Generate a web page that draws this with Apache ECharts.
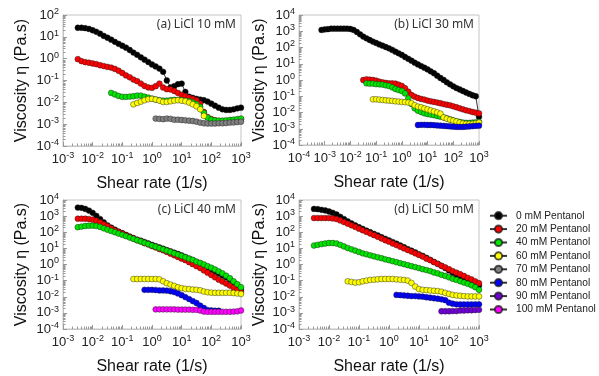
<!DOCTYPE html>
<html><head><meta charset="utf-8">
<script src="https://cdn.jsdelivr.net/npm/echarts@6/dist/echarts.min.js"></script>
<style>html,body{margin:0;padding:0;background:#fff}#c{width:599px;height:376px}</style>
</head><body><div id="c"></div>
<script>
// Shear-rate grid (1/s), 8 points per decade, index 0 = 1e-4 ... index 56 = 1e3
const shearRates = [
  1.00e-4,1.33e-4,1.78e-4,2.37e-4,3.16e-4,4.22e-4,5.62e-4,7.50e-4,
  1.00e-3,1.33e-3,1.78e-3,2.37e-3,3.16e-3,4.22e-3,5.62e-3,7.50e-3,
  1.00e-2,1.33e-2,1.78e-2,2.37e-2,3.16e-2,4.22e-2,5.62e-2,7.50e-2,
  1.00e-1,1.33e-1,1.78e-1,2.37e-1,3.16e-1,4.22e-1,5.62e-1,7.50e-1,
  1.00,1.33,1.78,2.37,3.16,4.22,5.62,7.50,
  10.0,13.3,17.8,23.7,31.6,42.2,56.2,75.0,
  100,133,178,237,316,422,562,750,
  1000
];
const seriesNames = ['0 mM Pentanol','20 mM Pentanol','40 mM Pentanol','60 mM Pentanol','70 mM Pentanol','80 mM Pentanol','90 mM Pentanol','100 mM Pentanol'];
const seriesColors = ['#000000','#ff0000','#00e600','#ffff00','#808080','#0000ff','#7000d8','#ff00ff'];
const panelTitles = ['(a) LiCl 10 mM','(b) LiCl 30 mM','(c) LiCl 40 mM','(d) LiCl 50 mM'];
const xRanges = [[1e-3,1e3],[1e-4,1e3],[1e-3,1e3],[1e-3,1e3]];
const yRanges = [[1e-4,1e2],[1e-4,1e4],[1e-4,1e4],[1e-4,1e4]];

// Viscosity (Pa.s); "from" = index into shearRates of first point
// Panel (a) LiCl 10 mM
const A_0 = {from:12, eta:[26,26,25,23,20,17,14,11,9.1,7.4,5.9,4.8,3.9,3.2,2.5,1.9,1.5,1.15,0.9,0.7,0.54,0.44,0.35,0.25,0.10,0.048,0.055,0.068,0.072,0.030,0.018,0.016,0.0144,0.0134,0.0125,0.0108,0.0087,0.0070,0.0057,0.0048,0.0045,0.0045,0.0048,0.0053,0.0057]};
const A_20 = {from:12, eta:[0.95,0.77,0.69,0.65,0.60,0.56,0.50,0.46,0.42,0.39,0.34,0.28,0.22,0.17,0.14,0.11,0.093,0.072,0.056,0.048,0.046,0.055,0.072,0.048,0.040,0.039,0.033,0.027,0.022,0.019,0.0165,0.0144,0.0125,0.0088,0.0036,0.0021,0.0017,0.0015,0.0014,0.00135,0.00135,0.0014,0.0015,0.0016,0.0017]};
const A_40 = {from:21, eta:[0.027,0.023,0.0196,0.0178,0.0178,0.0183,0.019,0.0204,0.0204,0.018,0.0165,0.0148,0.0134,0.0125,0.012,0.012,0.0125,0.013,0.013,0.0125,0.012,0.0112,0.0098,0.0082,0.0061,0.0033,0.0020,0.0016,0.0015,0.00145,0.00145,0.0015,0.00155,0.0016,0.0017,0.0018]};
const A_60 = {from:27, eta:[0.0081,0.0094,0.0108,0.0125,0.0139,0.0144,0.0134,0.012,0.0104,0.0104,0.0112,0.012,0.0125,0.012,0.0112,0.0098,0.0081,0.0066,0.0048,0.0024]};
const A_70 = {from:33, eta:[0.0018,0.00175,0.0017,0.0018,0.00175,0.0016,0.0016,0.00155,0.0015,0.00145,0.0014,0.0013,0.00118,0.0011,0.00107,0.00107,0.00107,0.0011,0.0011,0.00113,0.00118,0.0012,0.00125,0.0013]};
// Panel (b) LiCl 30 mM
const B_0 = {from:7, eta:[1200,1300,1350,1450,1450,1450,1450,1450,1450,1380,1200,900,650,470,365,290,230,190,155,130,107,89,71,55,44,35,26,20,15.5,11.7,9.1,7.2,5.7,4.5,3.4,2.6,1.85,1.33,1.0,0.72,0.54,0.41,0.32,0.26,0.21,0.17,0.14,0.115,0.1,0.0055]};
const B_20 = {from:20, eta:[1.0,1.1,1.05,1.0,0.91,0.79,0.72,0.66,0.62,0.62,0.6,0.51,0.43,0.31,0.19,0.12,0.094,0.078,0.068,0.062,0.054,0.049,0.045,0.041,0.037,0.033,0.030,0.0275,0.024,0.021,0.018,0.0156,0.0136,0.0123,0.0107,0.0098,0.0089]};
const B_40 = {from:21, eta:[0.62,0.6,0.6,0.56,0.54,0.52,0.47,0.43,0.355,0.28,0.24,0.21,0.15,0.074,0.033,0.018,0.013,0.0107,0.0089,0.0081,0.0074,0.0068,0.0061,0.0055,0.0050,0.0044,0.0038,0.0033,0.0029,0.0026,0.0024,0.0023,0.0023,0.0024,0.0025,0.0026]};
const B_60 = {from:23, eta:[0.065,0.065,0.062,0.059,0.056,0.054,0.052,0.049,0.047,0.045,0.043,0.041,0.037,0.028,0.023,0.021,0.018,0.0155,0.0135,0.0117,0.0102,0.0085,0.0050,0.0042,0.0036,0.0032,0.0028,0.0024,0.0021,0.0020,0.0020,0.0020,0.0021,0.0024]};
const B_80 = {from:37, eta:[0.0017,0.00175,0.00175,0.0017,0.0017,0.00165,0.0016,0.00155,0.0015,0.00145,0.0014,0.00135,0.0013,0.0013,0.0013,0.00135,0.0014,0.00145,0.0015,0.00155]};
// Panel (c) LiCl 40 mM
const C_0 = {from:12, eta:[3400,3250,2800,2200,1600,1040,660,410,270,195,145,110,87,69,54,43,35,30,24.5,20,16.6,13.8,11.5,9.5,7.9,6.6,5.4,4.5,3.7,2.9,2.3,1.85,1.45,1.15,0.87,0.66,0.49,0.37,0.28,0.21,0.16,0.115,0.079,0.049,0.027]};
const C_20 = {from:12, eta:[690,690,690,660,600,515,410,310,235,175,132,105,83,66,52,41,32,27,21,17.5,13.8,11.5,9.1,7.6,6.0,4.7,3.7,2.9,2.3,1.85,1.4,1.05,0.79,0.6,0.43,0.31,0.22,0.16,0.115,0.087,0.066,0.049,0.037,0.027,0.020]};
const C_40 = {from:12, eta:[205,225,245,255,255,245,215,175,145,120,100,83,69,57,47,39,32,27,22,18.5,15,12.6,10.5,8.7,7.2,6.0,4.9,4.1,3.4,2.8,2.3,1.95,1.5,1.26,1.0,0.79,0.63,0.49,0.37,0.28,0.20,0.14,0.091,0.060,0.039]};
const C_60 = {from:27, eta:[0.126,0.126,0.126,0.126,0.126,0.126,0.126,0.12,0.091,0.069,0.057,0.047,0.039,0.034,0.031,0.030,0.028,0.027,0.025,0.021,0.019,0.018,0.0175,0.0175,0.0175,0.0175,0.0175,0.017,0.016,0.015]};
const C_80 = {from:30, eta:[0.027,0.027,0.027,0.026,0.0245,0.0245,0.024,0.022,0.0195,0.016,0.0126,0.0095,0.0072,0.0054,0.0041,0.0028,0.0020,0.0015,0.0014,0.00135,0.00135]};
const C_100 = {from:33, eta:[0.00165,0.00165,0.00165,0.00165,0.00165,0.00165,0.0016,0.0016,0.0016,0.0016,0.00155,0.00155,0.0014,0.0012,0.00117,0.00117,0.00117,0.00117,0.00117,0.00117,0.00117,0.0012,0.00125,0.0014]};
// Panel (d) LiCl 50 mM
const D_0 = {from:12, eta:[2800,2700,2450,2250,1940,1600,1260,910,660,470,355,270,205,160,126,100,79,63,49,39,31,24.5,19.5,15.2,12,9.1,7.2,5.7,4.3,3.4,2.6,1.95,1.45,1.1,0.83,0.60,0.43,0.31,0.22,0.16,0.12,0.095,0.076,0.063,0.049]};
const D_20 = {from:12, eta:[760,760,760,760,760,725,660,540,425,340,270,215,167,132,105,83,66,52,41,32,26,20,16,12.6,10,7.9,6.3,4.9,3.9,3.1,2.3,1.85,1.4,1.1,0.83,0.66,0.51,0.39,0.31,0.25,0.195,0.15,0.12,0.091,0.069]};
const D_40 = {from:12, eta:[15,16.6,18.5,20,21.5,21.5,20,16.6,13.2,10.5,8.7,7.2,6.0,4.9,4.3,3.7,3.2,2.8,2.45,2.1,1.85,1.6,1.4,1.2,1.05,0.91,0.79,0.69,0.6,0.51,0.45,0.39,0.32,0.28,0.23,0.195,0.16,0.13,0.11,0.091,0.076,0.063,0.051,0.039,0.027]};
const D_60 = {from:21, eta:[0.091,0.083,0.076,0.079,0.091,0.1,0.11,0.115,0.12,0.126,0.126,0.126,0.126,0.12,0.115,0.11,0.1,0.072,0.043,0.030,0.027,0.026,0.0245,0.0235,0.0225,0.0205,0.0175,0.015,0.013,0.012,0.0115,0.011,0.0105,0.0105,0.0105,0.0105]};
const D_80 = {from:34, eta:[0.013,0.0126,0.012,0.0115,0.011,0.011,0.0105,0.0101,0.0093,0.0087,0.0081,0.0075,0.0069,0.0061,0.0043,0.0037,0.0034,0.0033,0.0033,0.0033,0.0033,0.0034,0.0034]};
const D_90 = {from:46, eta:[0.00126,0.00126,0.00126,0.0013,0.0013,0.0014,0.0014,0.00145,0.00145,0.0015,0.00155]};

// [series index into seriesNames, data]
const panelSeries = [
  [[0,A_0],[1,A_20],[2,A_40],[3,A_60],[4,A_70]],
  [[0,B_0],[1,B_20],[2,B_40],[3,B_60],[5,B_80]],
  [[0,C_0],[1,C_20],[2,C_40],[3,C_60],[5,C_80],[7,C_100]],
  [[0,D_0],[1,D_20],[2,D_40],[3,D_60],[5,D_80],[6,D_90]]
];

const gridPos = [
  {left:63, top:15, width:178, height:131},
  {left:299, top:15, width:180, height:130},
  {left:63, top:200, width:178, height:131},
  {left:299, top:200, width:180, height:130}
];
const FONT = 'Liberation Sans';
const supLabel = v => {
  const e = Math.round(Math.log10(v));
  return '{b|10}{s|' + e + '}';
};
const labelRich = {
  b:{fontSize:13, color:'#222', fontFamily:FONT},
  s:{fontSize:9, color:'#222', fontFamily:FONT, padding:[0,0,7,0]}
};

function minorTickValues(r){
  const out = [];
  const e0 = Math.round(Math.log10(r[0])), e1 = Math.round(Math.log10(r[1]));
  for (let e = e0; e < e1; e++) for (let m = 2; m <= 9; m++) out.push(m * Math.pow(10, e));
  return out;
}

const grids = [], xAxes = [], yAxes = [], series = [], graphics = [];
gridPos.forEach((g, i) => {
  grids.push(Object.assign({show:true, borderColor:'#c4c4c4', borderWidth:1, backgroundColor:'transparent'}, g));
  xAxes.push({
    type:'log', gridIndex:i, min:xRanges[i][0], max:xRanges[i][1], logBase:10,
    axisLine:{lineStyle:{color:'#c4c4c4'}},
    axisTick:{inside:true, length:4, lineStyle:{color:'#999'}},
    splitLine:{show:false},
    axisLabel:{formatter:supLabel, rich:labelRich, margin:5},
    name:'Shear rate (1/s)', nameLocation:'middle', nameGap:30,
    nameTextStyle:{fontSize:16, color:'#111', fontFamily:FONT}
  });
  yAxes.push({
    type:'log', gridIndex:i, min:yRanges[i][0], max:yRanges[i][1], logBase:10,
    axisLine:{lineStyle:{color:'#c4c4c4'}},
    axisTick:{inside:true, length:4, lineStyle:{color:'#999'}},
    splitLine:{show:false},
    axisLabel:{formatter:supLabel, rich:labelRich, margin:4},
    name:'Viscosity η (Pa.s)', nameLocation:'middle', nameGap: i % 2 === 0 ? 33 : 31,
    nameTextStyle:{fontSize:16, color:'#111', fontFamily:FONT}
  });
  // minor ticks drawn through the axis scales
  series.push({
    type:'custom', xAxisIndex:i, yAxisIndex:i, silent:true, z:1, clip:false,
    data: minorTickValues(xRanges[i]).map(v => [v, yRanges[i][0]]),
    renderItem:(p, api) => {
      const pt = api.coord([api.value(0), api.value(1)]);
      const x = Math.round(pt[0]) + 0.5;
      return {type:'line', shape:{x1:x, y1:pt[1], x2:x, y2:pt[1]-2.5}, style:{stroke:'#999', lineWidth:1}};
    }
  });
  series.push({
    type:'custom', xAxisIndex:i, yAxisIndex:i, silent:true, z:1, clip:false,
    data: minorTickValues(yRanges[i]).map(v => [xRanges[i][0], v]),
    renderItem:(p, api) => {
      const pt = api.coord([api.value(0), api.value(1)]);
      const y = Math.round(pt[1]) + 0.5;
      return {type:'line', shape:{x1:pt[0], y1:y, x2:pt[0]+2.5, y2:y}, style:{stroke:'#999', lineWidth:1}};
    }
  });
  panelSeries[i].forEach(([k, s]) => {
    series.push({
      type:'line', name:seriesNames[k], xAxisIndex:i, yAxisIndex:i,
      data: s.eta.map((v, j) => [shearRates[s.from + j], v]),
      symbol:'circle', symbolSize:5.8, showSymbol:true,
      lineStyle:{color:'#333', width:1},
      itemStyle:{color:seriesColors[k], borderColor:'rgba(30,30,30,0.75)', borderWidth:0.6},
      z:2
    });
  });
  graphics.push({
    type:'text', right: i % 2 === 0 ? 599 - 236 : 599 - 474, top: g.top + 4,
    style:{text:panelTitles[i], font:'12px "Noto Sans"', fill:'#333', textAlign:'right'}
  });
});

const chart = echarts.init(document.getElementById('c'), null, {renderer:'canvas'});
chart.setOption({
  animation:false,
  backgroundColor:'#fff',
  grid:grids, xAxis:xAxes, yAxis:yAxes, series:series,
  graphic:graphics,
  legend:{
    orient:'vertical', left:489, top:209, itemGap:0, itemWidth:17, itemHeight:9,
    data:seriesNames, selectedMode:false, padding:0,
    textStyle:{fontFamily:FONT, fontSize:10.2, color:'#222', lineHeight:13.4, padding:[0,0,0,4]}
  }
});
</script></body></html>
